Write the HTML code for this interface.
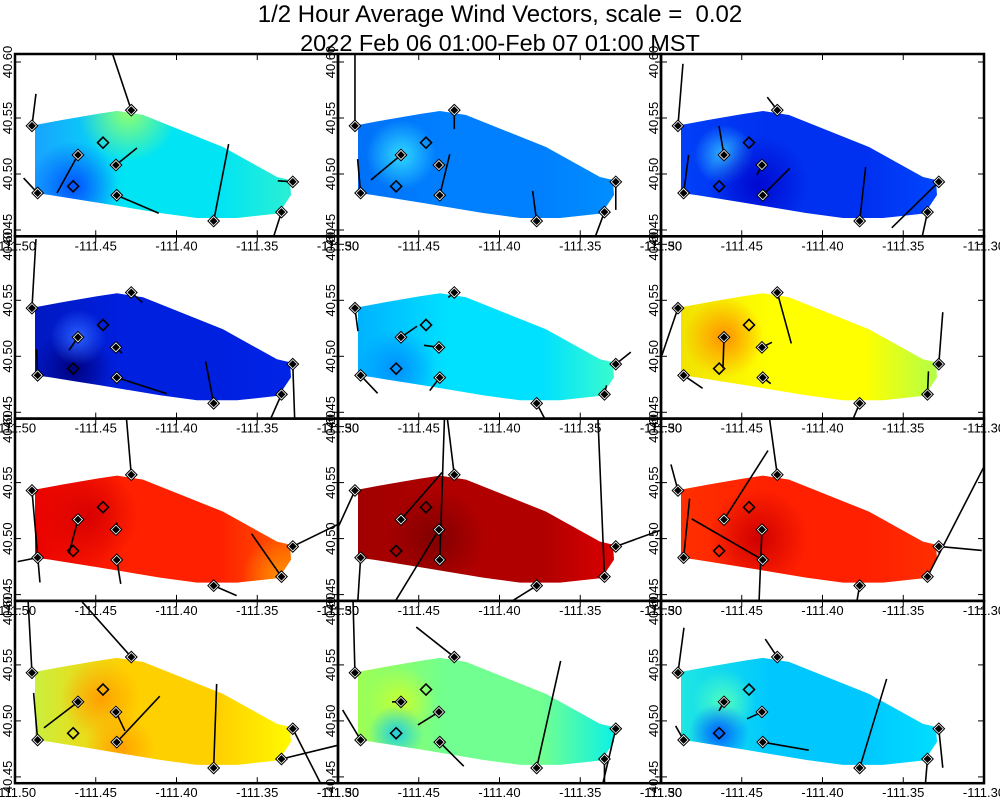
<!DOCTYPE html>
<html><head><meta charset="utf-8"><style>
html,body{margin:0;padding:0;background:#fff}
svg{display:block}
text{font-family:"Liberation Sans",sans-serif;fill:#000}
</style></head><body>
<svg id="chart" width="1000" height="800" viewBox="0 0 1000 800" xmlns="http://www.w3.org/2000/svg">
<text x="500" y="22" text-anchor="middle" font-size="24">1/2 Hour Average Wind Vectors, scale = &#160;0.02</text>
<text x="500" y="51" text-anchor="middle" font-size="23.5">2022 Feb 06 01:00-Feb 07 01:00 MST</text>
<defs id="defs"></defs>
</svg>
<script>
// station data
const stationLon = [-111.4895,-111.486,-111.461,-111.464,-111.4455,-111.4375,-111.437,-111.428,-111.377,-111.335,-111.328];
const stationLat = [40.543,40.483,40.517,40.489,40.528,40.508,40.481,40.557,40.458,40.466,40.493];
const stationOpen = [false,false,false,true,true,false,false,false,false,false,false];
const xTicks = [-111.50,-111.45,-111.40,-111.35,-111.30];
const xTickLabels = ["-111.50","-111.45","-111.40","-111.35","-111.30"];
const yTicks = [40.45,40.50,40.55,40.60];
const yTickLabels = ["40.45","40.50","40.55","40.60"];
// wind components per panel (u east, v north), null = no vector
const u1=[4,-14,-21,null,null,21,42,-20,15,-8,-15], v1=[32,15,-38,null,null,17,-18,60,77,-25,1];
const u2=[0,-3,-30,null,null,-3,10,0,-4,-9,0], v2=[75,34,-25,null,null,-3,41,-19,30,-24,-28];
const u3=[5,5,-5,null,null,-5,27,-10,6,-6,-47], v3=[62,38,29,null,null,-10,27,13,54,-28,-46];
const u4=[4,-1,-9,null,null,6,50,11,-8,-12,2], v4=[69,26,-13,null,null,-6,-16,-10,42,-27,-58];
const u5=[3,17,16,null,null,-15,-10,-6,9,2,15], v5=[-23,-18,11,null,null,2,-13,-5,-17,9,12];
const u6=[-16,19,-1,null,null,10,8,14,-8,1,4], v6=[-47,-13,-31,null,null,5,-6,-51,-19,23,52];
const u7=[8,-20,-9,null,null,1,4,-6,23,-30,45], v7=[-92,-4,-34,null,null,7,-24,70,-10,43,22];
const u8=[-16,-3,41,null,null,-50,5,-8,-24,-7,44], v8=[-35,-47,47,null,null,-82,150,65,-15,170,16];
const u9=[-7,6,44,null,null,-3,-71,-9,-3,57,43], v9=[26,59,69,null,null,-75,41,65,-17,111,-4];
const u10=[-4,-4,-34,null,null,9,43,-49,3,70,28], v10=[75,47,-26,null,null,-19,46,55,84,17,-55];
const u11=[-2,-18,-9,null,null,-21,24,-38,24,0,-13], v11=[75,30,0,null,null,-13,-24,30,107,-24,-55];
const u12=[6,-8,-5,null,null,-15,46,-12,27,-2,4], v12=[45,14,-9,null,null,-7,-8,18,89,-24,-39];
const panelU=[u1,u2,u3,u4,u5,u6,u7,u8,u9,u10,u11,u12];
const panelV=[v1,v2,v3,v4,v5,v6,v7,v8,v9,v10,v11,v12];

// panel styling
const styles=[
 {base:"#00e4f4",left:"#1aa0ff",right:"#30f0d0",blobs:[[-111.464,40.489,45,"#0050ff"],[-111.43,40.555,50,"#90ff70"]]},
 {base:"#0080ff",left:"#0070f8",right:"#0090ff",blobs:[[-111.461,40.517,35,"#30d8ff"]]},
 {base:"#0030f0",left:"#0040f8",right:"#0048ff",blobs:[[-111.461,40.517,30,"#30b8ff"],[-111.44,40.49,50,"#0008d0"]]},
 {base:"#0020e0",left:"#0018c0",right:"#0024e8",blobs:[[-111.464,40.489,40,"#000080"],[-111.461,40.517,28,"#2a60ff"]]},
 {base:"#00e0ff",left:"#00b0ff",right:"#40ffc8",blobs:[[-111.464,40.489,40,"#0090ff"]]},
 {base:"#ffff00",left:"#f0e000",right:"#a8ff50",blobs:[[-111.461,40.517,40,"#ff9000"]]},
 {base:"#ff2000",left:"#e80000",right:"#ff6000",blobs:[[-111.335,40.466,40,"#ff9000"],[-111.455,40.52,50,"#d80000"]]},
 {base:"#b00000",left:"#a00000",right:"#e00000",blobs:[[-111.44,40.50,50,"#800000"]]},
 {base:"#ff2000",left:"#ff3000",right:"#ff3000",blobs:[[-111.44,40.50,50,"#d00000"]]},
 {base:"#ffd000",left:"#c8f040",right:"#ffff00",blobs:[[-111.447,40.52,40,"#ffa000"],[-111.435,40.475,35,"#ffa000"]]},
 {base:"#70ff90",left:"#a0ff50",right:"#00f0f0",blobs:[[-111.461,40.517,35,"#c8ff30"],[-111.464,40.489,28,"#20d0e0"]]},
 {base:"#00c8ff",left:"#20e8e0",right:"#00e0ff",blobs:[[-111.461,40.517,32,"#50ffc0"],[-111.464,40.489,30,"#0060ff"]]}
];
const heatPoly=[[20,71],[47,66],[82,60],[102,57],[128,61],[208,93],[262,123],[275,126],[276,141],[268,153],[268,159],[222,164],[182,164],[145,159],[85,149],[35,141],[20,139]];

const NS="http://www.w3.org/2000/svg";
const svg=document.getElementById('chart');
const defs=document.getElementById('defs');
const PW=323, PH=182.3;
function mk(tag,attrs,parent){const e=document.createElementNS(NS,tag);for(const k in attrs)e.setAttribute(k,attrs[k]);(parent||svg).appendChild(e);return e;}
function xScale(L,lon){return L+(lon+111.5)/0.2*PW;}
function yScale(T,lat){return T+8+(40.60-lat)/0.05*56;}

for(let p=0;p<12;p++){
  const col=p%3,row=Math.floor(p/3);
  const L=15+col*PW, T=54+row*PH;
  const st=styles[p];
  const g=mk('g',{});
  
  
  const cp=mk('clipPath',{id:'clip'+p},defs);
  mk('rect',{x:L,y:T,width:PW,height:PH},cp);
  const lg=mk('linearGradient',{id:'lg'+p,x1:'0',x2:'1',y1:'0',y2:'0'},defs);
  mk('stop',{offset:'0','stop-color':st.left},lg);
  mk('stop',{offset:'0.35','stop-color':st.base},lg);
  mk('stop',{offset:'0.7','stop-color':st.base},lg);
  mk('stop',{offset:'1','stop-color':st.right},lg);
  const hp=mk('clipPath',{id:'hclip'+p},defs);
  const pts=heatPoly.map(q=>(L+q[0])+','+(T+q[1])).join(' ');
  mk('polygon',{points:pts},hp);
  const hg=mk('g',{'clip-path':'url(#hclip'+p+')'},g);
  
  
  mk('rect',{x:L+15,y:T+50,width:270,height:120,fill:'url(#lg'+p+')'},hg);
  st.blobs.forEach((b,i)=>{
    const rg=mk('radialGradient',{id:'rg'+p+'_'+i},defs);
    mk('stop',{offset:'0','stop-color':b[3],'stop-opacity':'1'},rg);
    mk('stop',{offset:'1','stop-color':b[3],'stop-opacity':'0'},rg);
    mk('circle',{cx:xScale(L,b[0]),cy:yScale(T,b[1]),r:b[2],fill:'url(#rg'+p+'_'+i+')'},hg);
  });
  const vg=mk('g',{'clip-path':'url(#clip'+p+')'},g);
  const U=panelU[p],V=panelV[p];
  for(let s=0;s<stationLon.length;s++){
    if(U[s]===null)continue;
    const x0=xScale(L,stationLon[s]),y0=yScale(T,stationLat[s]);
    const ln=mk('line',{x1:x0,y1:y0,x2:x0+U[s],y2:y0-V[s],stroke:'#000','stroke-width':1.6},vg);
    
    
  }
  for(let s=0;s<stationLon.length;s++){
    const x0=xScale(L,stationLon[s]),y0=yScale(T,stationLat[s]);
    const d=(r)=>`${x0},${y0-r} ${x0+r},${y0} ${x0},${y0+r} ${x0-r},${y0}`;
    const sg=mk('g',{},vg);
    
    
    if(stationOpen[s]){
      mk('polygon',{points:d(5.5),fill:'none',stroke:'#000','stroke-width':1.6},sg);
    }else{
      mk('polygon',{points:d(6.5),fill:'#000'},sg);
      mk('polygon',{points:d(4.5),fill:'none',stroke:'#fff','stroke-width':0.8},sg);
    }
  }
  const fr=mk('rect',{x:L,y:T,width:PW,height:PH,fill:'none',stroke:'#000','stroke-width':2.5},g);
  
  
  xTicks.forEach((t,i)=>{
    const x=xScale(L,t);
    mk('line',{x1:x,y1:T+PH,x2:x,y2:T+PH-6,stroke:'#000','stroke-width':1},g);
    mk('line',{x1:x,y1:T,x2:x,y2:T+6,stroke:'#000','stroke-width':1},g);
    const tx=mk('text',{x:x,y:T+PH+14,'text-anchor':'middle','font-size':13},g);
    tx.textContent=xTickLabels[i];
    
    
  });
  yTicks.forEach((t,i)=>{
    const y=yScale(T,t);
    mk('line',{x1:L,y1:y,x2:L+6,y2:y,stroke:'#000','stroke-width':1},g);
    mk('line',{x1:L+PW,y1:y,x2:L+PW-6,y2:y,stroke:'#000','stroke-width':1},g);
    const tx=mk('text',{x:L-3,y:y,'text-anchor':'middle','font-size':13,transform:`rotate(-90 ${L-3} ${y})`},g);
    tx.textContent=yTickLabels[i];
    
    
  });
}
</script>
</body></html>
